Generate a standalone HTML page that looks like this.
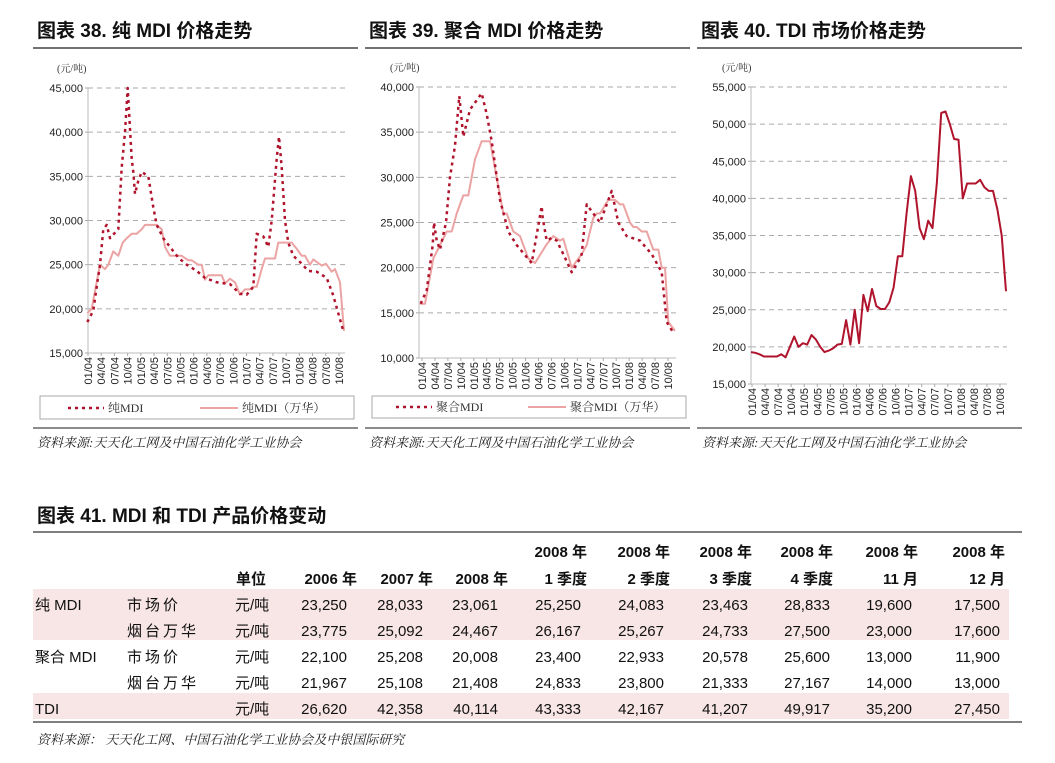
<!DOCTYPE html>
<html><head><meta charset="utf-8"><style>
html,body{margin:0;padding:0;background:#fff;width:1055px;height:763px;overflow:hidden}
svg{display:block}
text{font-family:"Liberation Sans","Noto Sans CJK SC",sans-serif}
.t{font-size:19px;font-weight:bold;fill:#111}
.ax{font-size:11px;fill:#222}
.xl{font-size:11px;fill:#222}
.src{font-family:"Liberation Serif","Noto Serif CJK SC",serif;font-size:13px;font-style:italic;fill:#222}
.unit{font-family:"Liberation Serif","Noto Serif CJK SC",serif;font-size:10px;fill:#333}
.tb{font-size:15px;fill:#111}
.th{font-size:15px;font-weight:bold;fill:#111}
</style></head><body>
<svg id="s" width="1055" height="763" xmlns="http://www.w3.org/2000/svg">
<text class="t" x="37" y="37">图表 38.  纯 MDI 价格走势</text>
<text class="t" x="369" y="37">图表 39. 聚合 MDI 价格走势</text>
<text class="t" x="701" y="37">图表 40. TDI 市场价格走势</text>
<line x1="33" y1="48" x2="358" y2="48" stroke="#444" stroke-width="1.5"/>
<line x1="365" y1="48" x2="690" y2="48" stroke="#444" stroke-width="1.5"/>
<line x1="697" y1="48" x2="1022" y2="48" stroke="#444" stroke-width="1.5"/>
<text class="unit" x="57" y="72">(元/吨)</text>
<text class="unit" x="390" y="71">(元/吨)</text>
<text class="unit" x="722" y="71">(元/吨)</text>
<g id="c"></g>
<rect x="40" y="396" width="314" height="23" fill="#fff" stroke="#aaa"/>
<line x1="68" y1="408" x2="104" y2="408" stroke="#b0142c" stroke-width="2.5" stroke-dasharray="3,4"/>
<text class="unit" x="108" y="412" style="font-size:12px">纯MDI</text>
<line x1="200" y1="408" x2="238" y2="408" stroke="#eba3a3" stroke-width="2"/>
<text class="unit" x="242" y="412" style="font-size:12px">纯MDI（万华）</text>
<rect x="372" y="396" width="314" height="22" fill="#fff" stroke="#aaa"/>
<line x1="396" y1="407" x2="432" y2="407" stroke="#b0142c" stroke-width="2.5" stroke-dasharray="3,4"/>
<text class="unit" x="436" y="411" style="font-size:12px">聚合MDI</text>
<line x1="528" y1="407" x2="566" y2="407" stroke="#eba3a3" stroke-width="2"/>
<text class="unit" x="570" y="411" style="font-size:12px">聚合MDI（万华）</text>
<line x1="33" y1="428" x2="358" y2="428" stroke="#666" stroke-width="1.5"/>
<line x1="365" y1="428" x2="690" y2="428" stroke="#666" stroke-width="1.5"/>
<line x1="697" y1="428" x2="1022" y2="428" stroke="#666" stroke-width="1.5"/>
<text class="src" x="37" y="447">资料来源:天天化工网及中国石油化学工业协会</text>
<text class="src" x="369" y="447">资料来源:天天化工网及中国石油化学工业协会</text>
<text class="src" x="702" y="447">资料来源:天天化工网及中国石油化学工业协会</text>

<text class="t" x="37" y="522">图表 41. MDI 和 TDI 产品价格变动</text>
<line x1="33" y1="532" x2="1022" y2="532" stroke="#555" stroke-width="1.5"/>
<rect x="33" y="589" width="976" height="51" fill="#f8e6e6"/>
<rect x="33" y="693" width="976" height="26" fill="#f8e6e6"/>
<line x1="33" y1="722" x2="1022" y2="722" stroke="#555" stroke-width="1.5"/>
<g id="tbl"></g>
<text class="src" x="37" y="744">资料来源： 天天化工网、中国石油化学工业协会及中银国际研究</text>
</svg>
<script>
var NS="http://www.w3.org/2000/svg",g=document.getElementById('c');
function el(n,a,t){var e=document.createElementNS(NS,n);for(var k in a)e.setAttribute(k,a[k]);if(t!=null)e.textContent=t;g.appendChild(e);return e;}
var labs=["01/04","04/04","07/04","10/04","01/05","04/05","07/05","10/05","01/06","04/06","07/06","10/06","01/07","04/07","07/07","10/07","01/08","04/08","07/08","10/08"];
function chart(o){
 var yv=function(v){return o.y0+(o.vmax-v)/(o.vmax-o.vmin)*(o.y1-o.y0)};
 for(var v=o.vmin;v<=o.vmax;v+=o.step){var y=yv(v);
  if(v>o.vmin)el('line',{x1:o.x0,y1:y,x2:o.x1,y2:y,stroke:'#aaa','stroke-dasharray':'5,4'});
  el('text',{class:'ax',x:o.x0-5,y:y+4,'text-anchor':'end'},v.toLocaleString('en-US'));
  el('line',{x1:o.x0-3,y1:y,x2:o.x0,y2:y,stroke:'#aaa'});}
 el('line',{x1:o.x0,y1:o.y0,x2:o.x0,y2:o.y1,stroke:'#bbb'});
 el('line',{x1:o.x0,y1:o.y1,x2:o.x1,y2:o.y1,stroke:'#bbb'});
 for(var i=0;i<20;i++){var x=o.lx0+i*(o.lx1-o.lx0)/19;
  el('line',{x1:x,y1:o.y1,x2:x,y2:o.y1+3,stroke:'#aaa'});
  el('text',{class:'xl',transform:'translate('+(x+4)+','+(o.y1+4)+') rotate(-90)','text-anchor':'end'},labs[i]);}
 o.series.forEach(function(s){var p=[];
  if(s.p){for(var i=0;i<s.p.length;i+=2)p.push((s.p[i]/3+o.off).toFixed(1)+','+yv(s.p[i+1]).toFixed(1));}
  else{var d=s.d,n=d.length;for(var i=0;i<n;i++)p.push((o.x0+i*(o.xe-o.x0)/(n-1)).toFixed(1)+','+yv(d[i]).toFixed(1));}
  var a={points:p.join(' '),fill:'none',stroke:s.c,'stroke-width':s.w,'stroke-linejoin':'round'};
  if(s.dash)a['stroke-dasharray']=s.dash;el('polyline',a);});
}
chart({x0:88,x1:345,off:0,y0:88,y1:353,vmin:15000,vmax:45000,step:5000,lx0:88,lx1:339,series:[
 {c:'#eba3a3',w:2,p:[262,19500,275,20000,300,25000,315,24500,325,25000,340,26500,355,26000,368,27500,380,28000,395,28500,410,28500,425,29000,435,29500,470,29500,485,29000,495,27000,510,26000,545,26000,565,25500,575,25500,595,25000,605,25000,615,23300,625,23800,665,23800,675,22900,690,23400,705,23000,720,21600,735,22200,750,22200,760,22500,770,22500,785,24500,795,25700,825,25700,835,27500,875,27500,890,26800,905,26000,915,26000,930,25000,940,25600,965,24900,978,25100,995,24200,1005,24500,1020,23000,1032,17500]},
 {c:'#b0142c',w:2.5,dash:'3,4',p:[262,18500,280,19800,290,22500,300,25000,310,29000,320,29500,330,28000,342,28500,355,29000,365,36000,375,40000,383,45000,395,37000,400,35500,405,33000,415,34500,425,35500,445,35000,460,31500,470,29500,490,28000,510,27000,535,25800,560,25000,590,24300,615,23500,650,23000,690,22800,720,21700,740,21600,760,22500,770,28500,790,28200,805,27000,815,30000,830,37000,837,39500,845,36000,855,30000,865,27500,880,26000,900,25300,925,24300,950,24200,980,23500,1000,21500,1015,19500,1030,17500]}]});
chart({x0:419,x1:676,off:360,y0:87,y1:358,vmin:10000,vmax:40000,step:5000,lx0:422,lx1:668,series:[
 {c:'#eba3a3',w:2,p:[180,16000,195,16000,220,21000,260,24000,275,24000,290,26000,310,28000,325,28000,345,32000,365,34000,390,34000,420,28000,430,26000,440,26000,460,24000,480,23500,505,21000,525,20500,560,22600,580,23500,600,23000,610,23200,635,20000,665,21500,680,22500,700,25500,710,26000,720,26000,745,27500,765,27500,780,27000,790,27000,810,25000,820,24500,830,24500,845,24000,860,24000,880,22000,895,22000,905,20000,915,20000,925,14000,945,13000]},
 {c:'#b0142c',w:2.5,dash:'3,4',p:[182,16000,200,17500,218,22500,222,25000,230,23000,240,22000,258,25000,270,30000,285,33500,298,39000,310,34500,330,37500,365,39300,380,37000,395,34000,420,27500,445,24000,470,22500,515,20500,545,26800,548,25500,560,23000,575,23300,590,23000,610,21500,635,19500,660,21000,665,21500,680,27000,700,26000,720,25000,755,28500,775,25000,800,23500,840,23000,875,21500,905,19500,920,14000,940,12800]}]});
chart({x0:751,x1:1007,xe:1006,y0:87,y1:384,vmin:15000,vmax:55000,step:5000,lx0:752,lx1:1000,series:[
 {c:'#b0142c',w:2,d:[19300,19200,19000,18700,18700,18700,18700,19000,18600,20000,21400,20000,20500,20300,21600,21000,20000,19300,19500,19800,20300,20400,23600,20300,25000,20500,27000,24800,27800,25500,25100,25100,26000,28000,32200,32200,38000,43000,41000,36000,34500,37000,36000,42000,51500,51700,50000,48000,47900,40000,42000,42000,42000,42500,41500,41000,41000,38500,35000,27500]}]});
g=document.getElementById('tbl');
var hx=[357,433,508,587,670,752,833,918,1005],nx=[347,423,498,581,664,748,830,912,1000];
var h1=["","","","2008 年","2008 年","2008 年","2008 年","2008 年","2008 年"],h2=["2006 年","2007 年","2008 年","1 季度","2 季度","3 季度","4 季度","11 月","12 月"];
for(var i=0;i<9;i++){if(h1[i])el('text',{class:'th',x:hx[i],y:557,'text-anchor':'end'},h1[i]);el('text',{class:'th',x:hx[i],y:584,'text-anchor':'end'},h2[i]);}
el('text',{class:'th',x:236,y:584},'单位');
var rows=[["纯 MDI","市场价",[23250,28033,23061,25250,24083,23463,28833,19600,17500]],["","烟台万华",[23775,25092,24467,26167,25267,24733,27500,23000,17600]],["聚合 MDI","市场价",[22100,25208,20008,23400,22933,20578,25600,13000,11900]],["","烟台万华",[21967,25108,21408,24833,23800,21333,27167,14000,13000]],["TDI","",[26620,42358,40114,43333,42167,41207,49917,35200,27450]]];
var ry=[610,636,662,688,714];
rows.forEach(function(r,j){var y=ry[j];
 if(r[0])el('text',{class:'tb',x:35,y:y},r[0]);
 if(r[1])el('text',{class:'tb',x:127,y:y,'letter-spacing':'3'},r[1]);
 el('text',{class:'tb',x:235,y:y},'元/吨');
 r[2].forEach(function(v,i){el('text',{class:'tb',x:nx[i],y:y,'text-anchor':'end'},v.toLocaleString('en-US'));});});
</script>
</body></html>
